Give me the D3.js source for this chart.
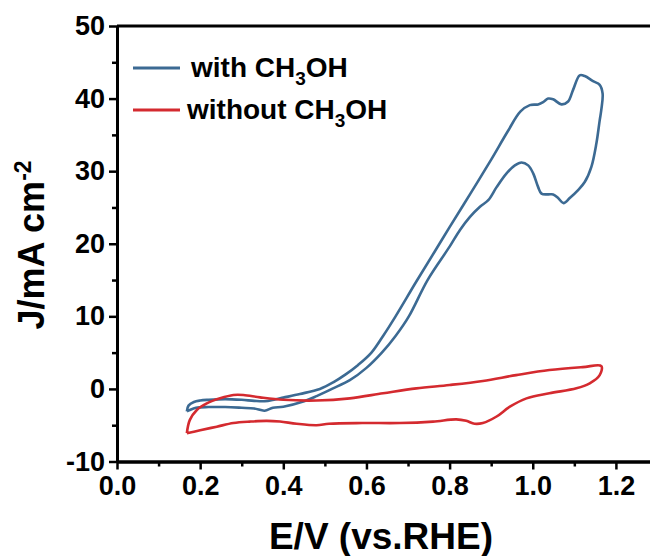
<!DOCTYPE html>
<html><head><meta charset="utf-8">
<script src="https://cdn.jsdelivr.net/npm/d3@7"></script>
<style>
body{margin:0;background:#fff}
svg text{font-family:"Liberation Sans",Arial,sans-serif;font-weight:bold;fill:#000}
</style>
</head><body><svg id="c" width="650" height="556"></svg>
<script>
// with CH3OH (closed CV loop)
const withE = [0.168,0.172,0.185,0.20,0.22,0.26,0.30,0.33,0.355,0.38,0.40,0.44,0.488,0.52,0.55,0.58,0.612,0.64,0.67,0.72,0.765,0.80,0.85,0.90,0.94,0.97,0.993,1.013,1.025,1.037,1.049,1.069,1.085,1.097,1.113,1.125,1.145,1.161,1.168,1.165,1.161,1.153,1.141,1.125,1.109,1.089,1.074,1.061,1.049,1.037,1.021,1.013,1.001,0.989,0.973,0.957,0.937,0.913,0.893,0.873,0.849,0.825,0.80,0.747,0.702,0.67,0.637,0.60,0.56,0.517,0.48,0.45,0.40,0.375,0.355,0.33,0.30,0.26,0.22,0.19,0.175,0.168];
const withJ = [-3.1,-2.3,-1.8,-1.6,-1.5,-1.4,-1.5,-1.65,-1.7,-1.45,-1.2,-0.7,0.0,0.9,2.0,3.3,5.0,7.3,10.0,14.8,19.0,22.3,26.9,31.6,35.5,38.2,39.1,39.2,39.5,40.0,39.9,39.2,39.6,41.2,43.2,43.1,42.4,41.9,40.7,38.5,37.0,33.8,30.6,28.5,27.4,26.3,25.6,26.3,26.8,26.8,26.9,27.8,29.7,30.8,31.2,30.8,29.7,27.8,26.0,25.1,23.7,21.9,19.6,15.0,10.0,7.3,5.0,2.9,1.2,0.0,-1.0,-1.7,-2.45,-2.6,-3.0,-2.7,-2.6,-2.5,-2.5,-2.6,-2.9,-3.1];
// without CH3OH (closed CV loop)
const woE = [0.168,0.175,0.192,0.216,0.248,0.28,0.304,0.344,0.40,0.48,0.56,0.64,0.72,0.80,0.88,0.96,1.04,1.12,1.165,1.161,1.137,1.105,1.04,0.985,0.945,0.913,0.88,0.86,0.84,0.816,0.76,0.68,0.59,0.51,0.48,0.432,0.392,0.36,0.32,0.28,0.24,0.20,0.168];
const woJ = [-6.1,-4.3,-2.9,-2.0,-1.3,-0.84,-0.84,-1.16,-1.5,-1.6,-1.3,-0.6,0.08,0.54,1.1,1.9,2.6,3.0,3.15,1.9,0.77,0.08,-0.6,-1.3,-2.45,-3.8,-4.7,-4.8,-4.4,-4.2,-4.5,-4.7,-4.7,-4.8,-5.0,-4.8,-4.5,-4.4,-4.5,-4.7,-5.2,-5.7,-6.1];

const xTicks = [0,0.2,0.4,0.6,0.8,1.0,1.2];
const xMinor = [0.1,0.3,0.5,0.7,0.9,1.1];
const yTicks = [-10,0,10,20,30,40,50];
const yMinor = [-5,5,15,25,35,45];
const seriesNames = ["with CH", "without CH"];
const colors = ["#3c6a93", "#d42a2f"];

const svg = d3.select("#c");
const x = d3.scaleLinear().domain([0, 1.282]).range([117, 650]);
const y = d3.scaleLinear().domain([-10, 50]).range([461.5, 26]);

const line = d3.line().x(d => x(d[0])).y(d => y(d[1])).curve(d3.curveCatmullRom.alpha(0.5));

const series = [
  {pts: withE.map((e,i)=>[e, withJ[i]]), color: colors[0]},
  {pts: woE.map((e,i)=>[e, woJ[i]]), color: colors[1]}
];
series.forEach(s => {
  svg.append("path").attr("d", line(s.pts)).attr("fill","none").attr("stroke",s.color).attr("stroke-width",2.6).attr("stroke-linejoin","round");
});

// axes
const ax = svg.append("g").attr("transform", `translate(0,${y(-10)})`)
  .call(d3.axisBottom(x).tickValues(xTicks).tickFormat(d3.format(".1f")).tickSize(8).tickSizeOuter(0).tickPadding(6));
svg.append("g").attr("transform", `translate(0,${y(-10)})`)
  .call(d3.axisBottom(x).tickValues(xMinor).tickFormat("").tickSize(5).tickSizeOuter(0));
const ay = svg.append("g").attr("transform", `translate(${x(0)},0)`)
  .call(d3.axisLeft(y).tickValues(yTicks).tickFormat(d => String(d)).tickSize(8).tickSizeOuter(0).tickPadding(4));
svg.append("g").attr("transform", `translate(${x(0)},0)`)
  .call(d3.axisLeft(y).tickValues(yMinor).tickFormat("").tickSize(5).tickSizeOuter(0));
// top frame
svg.append("line").attr("x1", x(0)).attr("x2", 650).attr("y1", y(50)).attr("y2", y(50)).attr("stroke","#000").attr("stroke-width",3);

svg.selectAll(".domain").attr("stroke-width",3).attr("stroke","#000");
svg.selectAll(".tick line").attr("stroke-width",2.5).attr("stroke","#000");
ax.selectAll(".tick text").style("font-size","27px").attr("dy","0.74em");
ay.selectAll(".tick text").style("font-size","27px");
svg.selectAll(".tick text").style("font-family",'"Liberation Sans",Arial,sans-serif').style("font-weight","bold").attr("fill","#000");

// axis titles
svg.append("text").attr("x", 381).attr("y", 549).attr("text-anchor","middle").style("font-size","37px").text("E/V (vs.RHE)");
const yt = svg.append("text").attr("transform","translate(44,245) rotate(-90)").attr("text-anchor","middle").style("font-size","36px");
yt.append("tspan").text("J/mA cm");
yt.append("tspan").attr("dy","-13").style("font-size","23px").text("-2");

// legend
const leg = svg.append("g");
[0,1].forEach(i => {
  const ly = i === 0 ? 68 : 110;
  leg.append("line").attr("x1",133).attr("x2",180).attr("y1",ly).attr("y2",ly).attr("stroke",colors[i]).attr("stroke-width",2.8);
  const t = leg.append("text").attr("x", i===0 ? 191 : 187).attr("y", ly+9).style("font-size","28px");
  t.append("tspan").text(seriesNames[i]);
  t.append("tspan").attr("dy","8").style("font-size","19px").text("3");
  t.append("tspan").attr("dy","-8").text("OH");
});
</script>
</body></html>
